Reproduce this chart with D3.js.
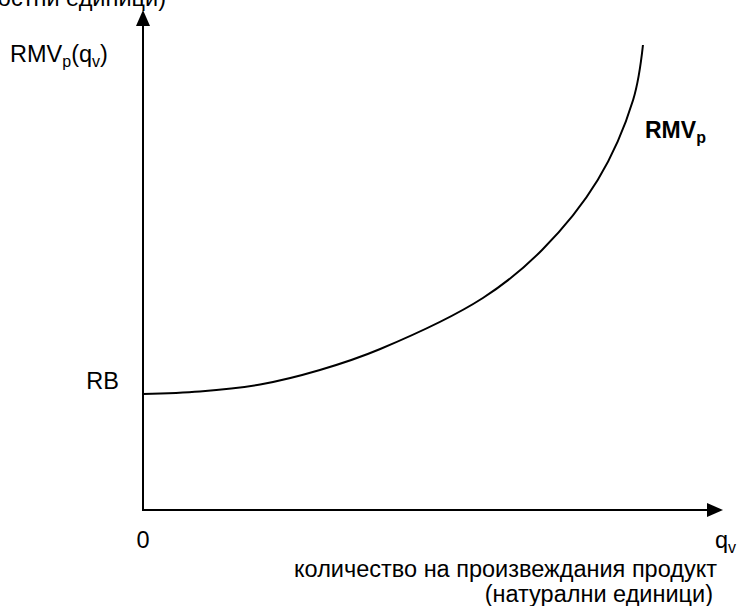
<!DOCTYPE html>
<html>
<head>
<meta charset="utf-8">
<script src="https://cdn.jsdelivr.net/npm/d3@7"></script>
<style>
  html, body { margin: 0; padding: 0; background: #fff; }
  svg { display: block; }
  text { font-family: "Liberation Sans", Arial, sans-serif; fill: #000; }
</style>
</head>
<body>
<svg id="chart" width="739" height="606"></svg>
<script>
// Data (abstract units)
const qValues   = [0, 9.8, 20.2, 30.5, 40.9, 58.6, 68.8, 78.4, 84.5, 86.2];
const rmvValues = [23.2, 23.7, 25.1, 28.0, 32.2, 42.4, 52.0, 66.0, 82.0, 93.0];
const rbValue = 23.2;
const xAxisLines = ["количество на произвеждания продукт", "(натурални единици)"];
const yAxisTopLabel = "(стойностни единици)";

const svg = d3.select("#chart");
const x = d3.scaleLinear().domain([0, 100]).range([143, 723]);
const y = d3.scaleLinear().domain([0, 100]).range([510, 10]);

// Axes
const ax = svg.append("g").attr("stroke", "#000").attr("stroke-width", 2);
ax.append("line").attr("x1", x(0)).attr("y1", y(0) + 1).attr("x2", x(0)).attr("y2", y(100) + 14);
ax.append("line").attr("x1", x(0) - 1).attr("y1", y(0)).attr("x2", x(100) - 14).attr("y2", y(0));
// Arrowheads
svg.append("path")
  .attr("d", `M${x(0)},${y(100)} L${x(0) - 7},${y(100) + 16} L${x(0) + 7},${y(100) + 16} Z`)
  .attr("fill", "#000");
svg.append("path")
  .attr("d", `M${x(100)},${y(0)} L${x(100) - 16},${y(0) - 7} L${x(100) - 16},${y(0) + 7} Z`)
  .attr("fill", "#000");

// Curve
const pts = qValues.map((q, i) => [q, rmvValues[i]]);
const line = d3.line().x(d => x(d[0])).y(d => y(d[1])).curve(d3.curveCatmullRom.alpha(0.5));
svg.append("path").attr("d", line(pts)).attr("fill", "none")
  .attr("stroke", "#000").attr("stroke-width", 2);

// Labels
const fs = 23.5;
// top cut-off label
svg.append("text").attr("x", 166).attr("y", 6).attr("text-anchor", "end")
  .attr("font-size", fs).text(yAxisTopLabel);

// RMVp(qv)
const t1 = svg.append("text").attr("x", 10).attr("y", 62).attr("font-size", fs);
t1.append("tspan").text("RMV");
t1.append("tspan").attr("font-size", 16).attr("dy", 5).text("p");
t1.append("tspan").attr("dy", -5).text("(q");
t1.append("tspan").attr("font-size", 16).attr("dy", 5).text("v");
t1.append("tspan").attr("dy", -5).text(")");

// RMVp bold
const t2 = svg.append("text").attr("x", 645).attr("y", 138).attr("font-size", 23).attr("font-weight", "bold");
t2.append("tspan").text("RMV");
t2.append("tspan").attr("font-size", 16).attr("dy", 5).text("p");

// RB
svg.append("text").attr("x", 119).attr("y", y(rbValue) - 5).attr("text-anchor", "end")
  .attr("font-size", fs).text("RB");

// 0
svg.append("text").attr("x", x(0)).attr("y", 548).attr("text-anchor", "middle")
  .attr("font-size", fs).text("0");

// qv
const t3 = svg.append("text").attr("x", 715).attr("y", 548).attr("font-size", fs);
t3.append("tspan").text("q");
t3.append("tspan").attr("font-size", 16).attr("dy", 5).text("v");

// x-axis title lines
svg.append("text").attr("x", 717).attr("y", 577).attr("text-anchor", "end")
  .attr("font-size", fs).text(xAxisLines[0]);
svg.append("text").attr("x", 713).attr("y", 602).attr("text-anchor", "end")
  .attr("font-size", fs).text(xAxisLines[1]);
</script>
</body>
</html>
